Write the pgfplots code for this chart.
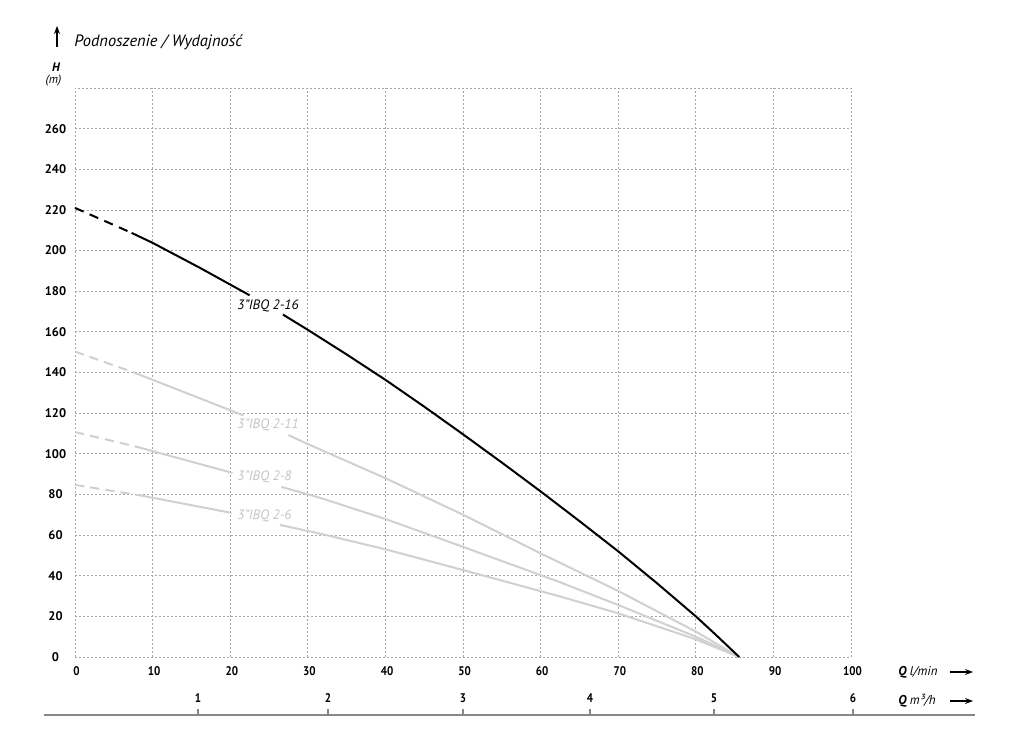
\documentclass[border=0pt]{standalone}
\usepackage{fontspec}
\setmainfont{PT Sans}
\usepackage{pgfplots}
\pgfplotsset{compat=1.18}
\usetikzlibrary{arrows.meta}
\definecolor{lg}{RGB}{208,208,208}
\definecolor{lgt}{RGB}{196,196,196}
\definecolor{gridc}{RGB}{165,165,165}
\definecolor{basec}{RGB}{135,135,135}
\begin{document}
\begin{tikzpicture}
\begin{axis}[
 at={(0pt,0pt)}, anchor=south west,
 scale only axis, width=582pt, height=426.75pt,
 xmin=0, xmax=100, ymin=0, ymax=280,
 xtick={0,10,...,100}, ytick={0,20,...,260},
 grid=major,
 major grid style={gridc, line width=0.6pt, dash pattern=on 1.2pt off 1.8pt},
 axis line style={gridc, line width=0.6pt, dash pattern=on 1.2pt off 1.8pt},
 major tick length=0pt,
 tick label style={font=\fontsize{9.4}{11}\selectfont\bfseries, /pgf/number format/assume math mode=true},
 yticklabel style={anchor=center, xshift=-14.6pt},
 xticklabel style={anchor=center, yshift=-10.5pt, xshift=1.2pt, xscale=0.88},
 clip=false,
]
% 3"IBQ 2-11
\addplot[lg, line width=1.5pt, dash pattern=on 7pt off 4.5pt] coordinates {(0,150.3) (7.6,140)};
\addplot[lg, line width=1.5pt] coordinates {(7.6,140) (21.7,118.9)};
\addplot[lg, line width=1.5pt] coordinates {(27.5,109.2) (30,104.8) (40,88) (50,70) (60,51) (70,32.5) (80,12.5) (85.6,0)};
% 3"IBQ 2-8
\addplot[lg, line width=1.5pt, dash pattern=on 7pt off 4.5pt] coordinates {(0,110.7) (8,103.4)};
\addplot[lg, line width=1.5pt] coordinates {(8,103.4) (20.3,90.6)};
\addplot[lg, line width=1.5pt] coordinates {(26.6,83.7) (31.6,78.3) (40,67.9) (50,54.2) (60,40.3) (62.5,36.8) (70,25.6) (80,10) (85.6,0)};
% 3"IBQ 2-6
\addplot[lg, line width=1.5pt, dash pattern=on 7pt off 4.5pt] coordinates {(0,84.7) (8.6,79.4)};
\addplot[lg, line width=1.5pt] coordinates {(8.6,79.4) (20.2,70.9)};
\addplot[lg, line width=1.5pt] coordinates {(26.4,65) (31.6,60.7) (40,53) (50,42.8) (60,32.4) (62.5,29.8) (70,21.5) (80,8.7) (85.6,0)};
% 3"IBQ 2-16
\addplot[black, line width=1.5pt, dash pattern=on 7pt off 5pt] coordinates {(0,221) (7.3,208.7)};
\addplot[black, line width=1.5pt] coordinates {(7.3,208.7) (10,203.8) (16.1,191.5) (22.5,178)};
\addplot[black, line width=1.5pt] coordinates {(26.8,168.5) (30,161) (35,148.9) (40,136.4) (45,123.2) (50,109.6) (55,95.7) (60,81.5) (65,66.9) (70,52) (75,36.3) (80,20) (82.5,11.2) (85.6,0)};
% curve labels
\node[anchor=west, inner sep=0pt, font=\fontsize{10.2}{12}\selectfont\itshape] at (axis cs:20.9,172.8) {3"IBQ 2-16};
\node[anchor=west, inner sep=0pt, text=lgt, font=\fontsize{10.2}{12}\selectfont\itshape] at (axis cs:20.9,114.1) {3"IBQ 2-11};
\node[anchor=west, inner sep=0pt, text=lgt, font=\fontsize{10.2}{12}\selectfont\itshape] at (axis cs:20.9,88.8) {3"IBQ 2-8};
\node[anchor=west, inner sep=0pt, text=lgt, font=\fontsize{10.2}{12}\selectfont\itshape] at (axis cs:20.9,69.6) {3"IBQ 2-6};
\end{axis}
\begin{scope}[x=0.75pt, y=-0.75pt, shift={(-75,-657)}]
\path (0,0) rectangle (1024,732);
\draw[line width=0.9pt, -{Stealth[length=6pt,width=4.5pt]}] (57,47) -- (57,26);
\node[anchor=base west, inner sep=0pt, font=\fontsize{12.3}{14}\selectfont\itshape] at (74,46.5) {Podnoszenie / Wydajność};
\node[font=\fontsize{9.2}{10}\selectfont\bfseries\itshape] at (56,67) {H};
\node[font=\fontsize{9}{10}\selectfont\itshape] at (53.5,81) {(m)};
\node[anchor=west, inner sep=0pt, font=\fontsize{9.6}{11}\selectfont\itshape] at (898,672) {\textbf{Q} l/min};
\node[anchor=west, inner sep=0pt, font=\fontsize{9.6}{11}\selectfont\itshape] at (898,701) {\textbf{Q} m³/h};
\draw[line width=0.9pt, -{Stealth[length=6pt,width=4.5pt]}] (950,672) -- (973,672);
\draw[line width=0.9pt, -{Stealth[length=6pt,width=4.5pt]}] (950,701) -- (973,701);
\draw[basec, line width=1.2pt] (44,715) -- (975,715);
\foreach \x/\l in {198/1,328/2,463/3,590/4,714/5,853/6}{
  \draw[basec, line width=0.8pt] (\x,709) -- (\x,715);
  \node[xscale=0.88, font=\fontsize{9.4}{11}\selectfont\bfseries] at (\x,698) {\l};
}
\end{scope}
\end{tikzpicture}
\end{document}
